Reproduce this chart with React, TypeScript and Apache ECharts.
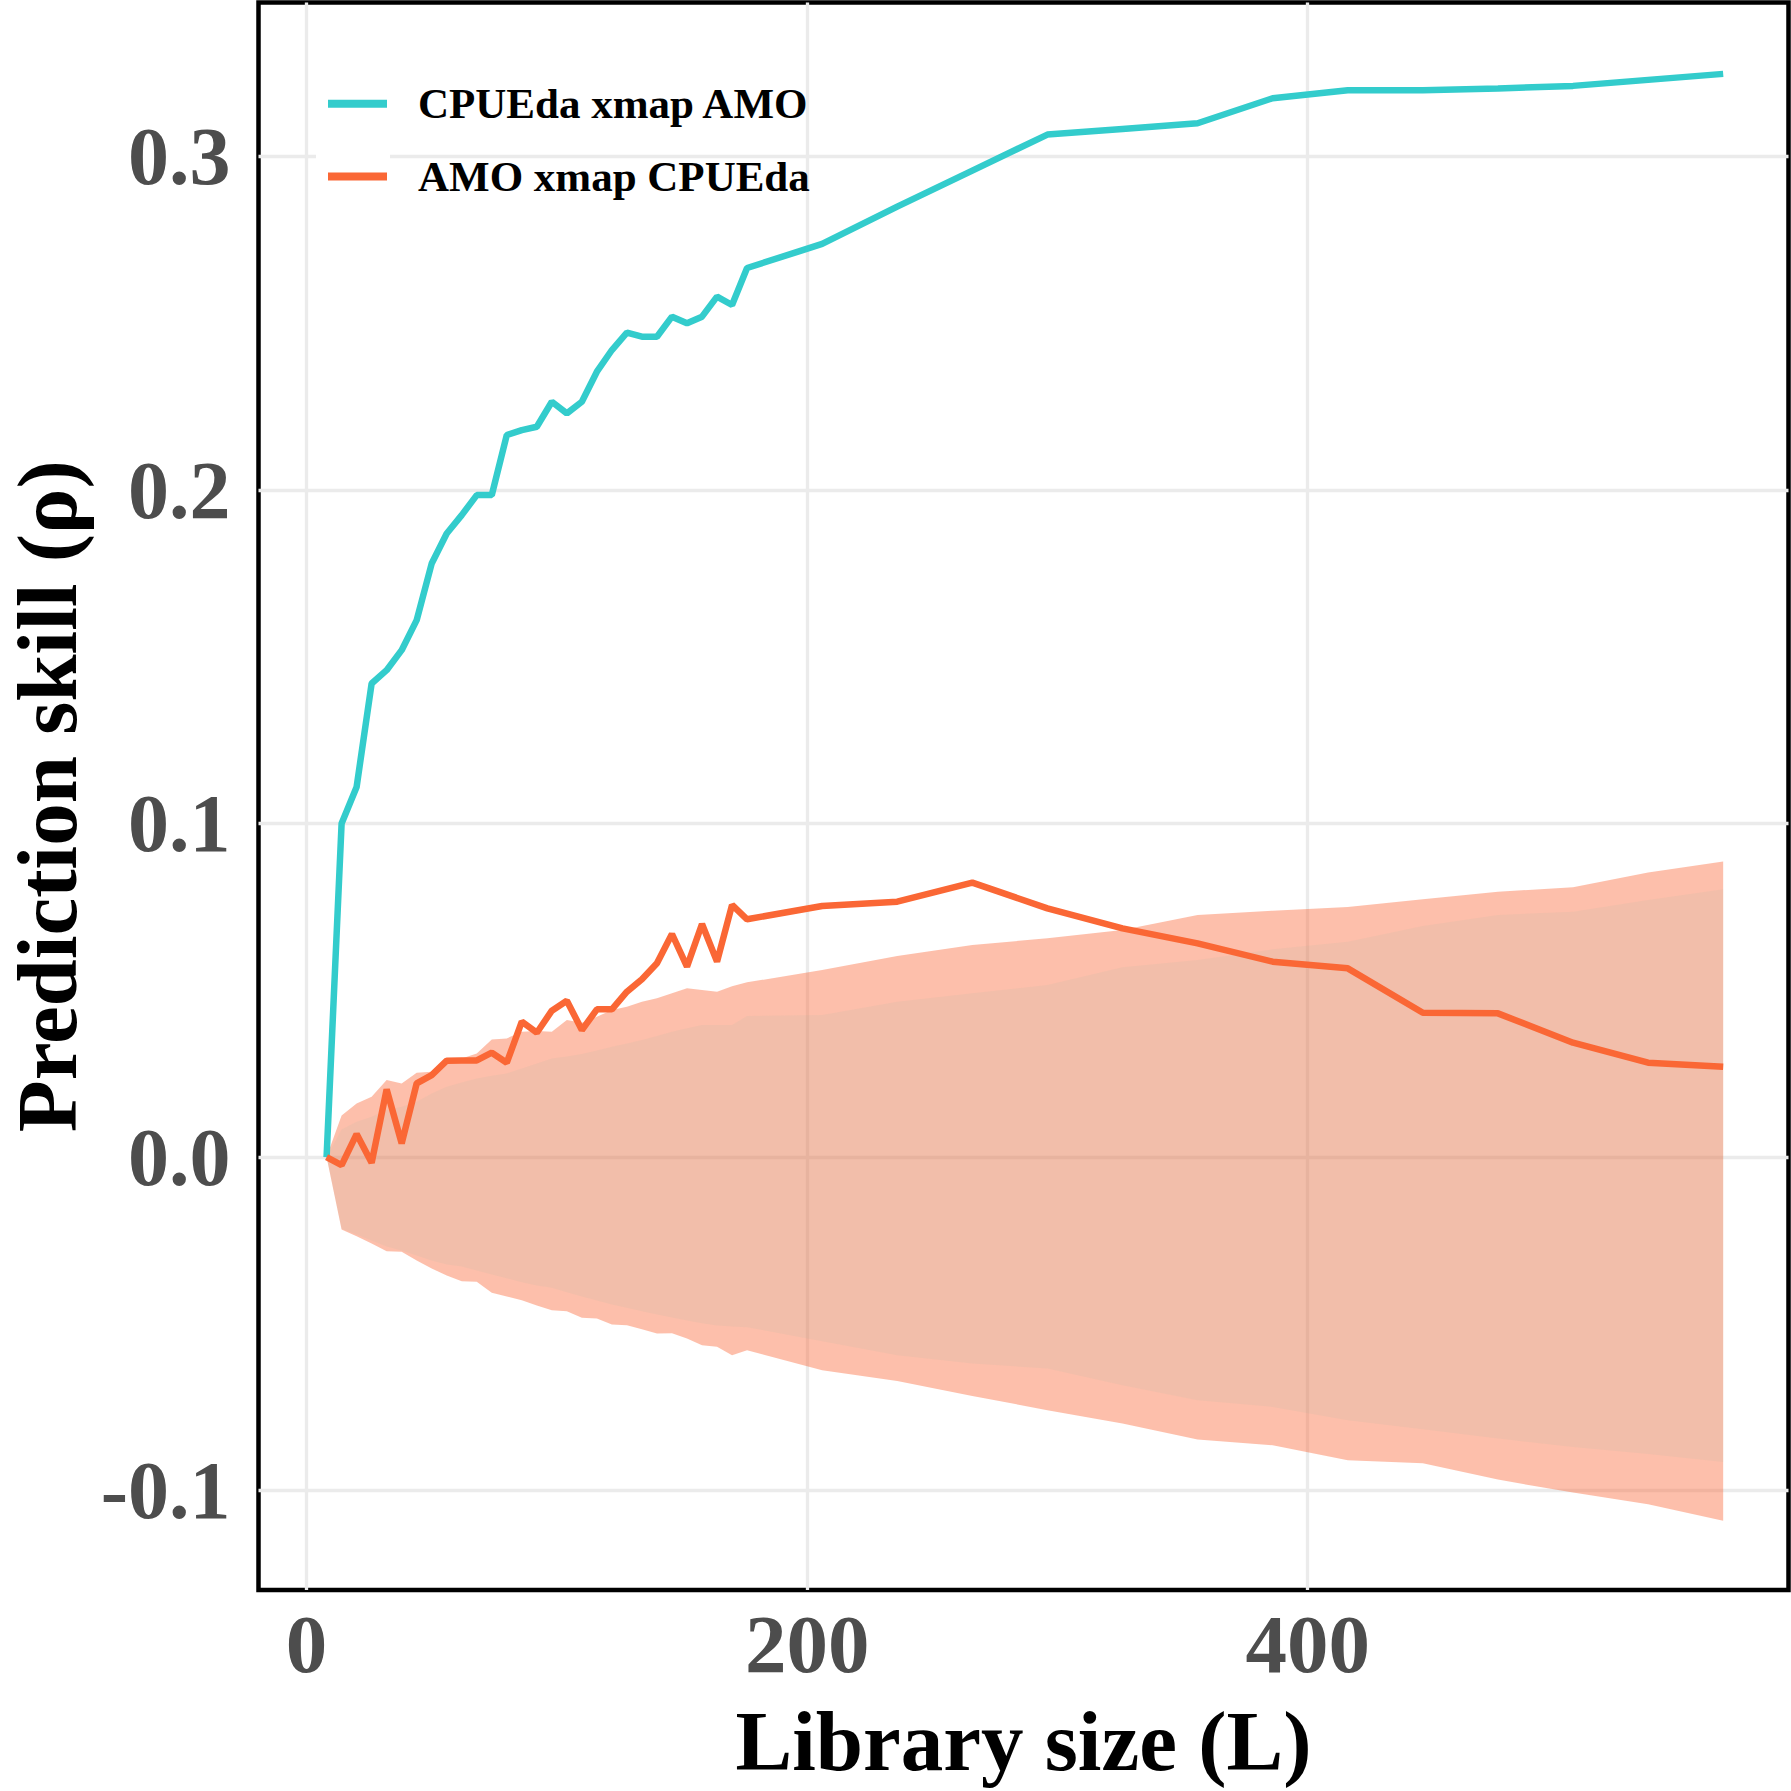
import React, { useEffect, useRef } from "react";
import * as echarts from "echarts";

// Library sizes (L)
const LIB_SIZE = [
  8, 14, 20, 26, 32, 38, 44, 50, 56, 62, 68, 74, 80, 86, 92, 98, 104, 110, 116, 122,
  128, 134, 140, 146, 152, 158, 164, 170, 176, 206, 236, 266, 296, 326, 356, 386,
  416, 446, 476, 506, 536, 566,
];

// CPUEda xmap AMO (rho)
const CPUE_XMAP_AMO = [
  0.0, 0.1, 0.111, 0.142, 0.146, 0.152, 0.161, 0.178, 0.187, 0.1925, 0.1985, 0.1985,
  0.2165, 0.218, 0.219, 0.2265, 0.223, 0.2265, 0.2355, 0.242, 0.2472, 0.246, 0.246,
  0.252, 0.25, 0.252, 0.258, 0.2555, 0.2666, 0.2738, 0.285, 0.2958, 0.3066, 0.3083,
  0.31, 0.3175, 0.3199, 0.3199, 0.3204, 0.3212, 0.323, 0.3248,
];

// AMO xmap CPUEda (rho)
const AMO_XMAP_CPUE = [
  0.0, -0.0024, 0.0069, -0.0017, 0.0203, 0.0041, 0.0221, 0.0246, 0.0289, 0.029, 0.029,
  0.0313, 0.0283, 0.0406, 0.0373, 0.0439, 0.0469, 0.0381, 0.0443, 0.0443, 0.0496,
  0.0533, 0.0581, 0.0669, 0.0571, 0.0699, 0.0586, 0.0756, 0.0713, 0.0753, 0.0766,
  0.0823, 0.0746, 0.0686, 0.0641, 0.0586, 0.0566, 0.0433, 0.0431, 0.0343, 0.0283, 0.0271,
];

// Null-model band (outer)
const OUTER_HI = [
  0.0, 0.0125, 0.0161, 0.0181, 0.0231, 0.0221, 0.0253, 0.0256, 0.0281, 0.0296, 0.0311,
  0.0353, 0.0356, 0.0376, 0.0378, 0.0376, 0.0411, 0.0403, 0.0421, 0.0441, 0.0451,
  0.0466, 0.0476, 0.0491, 0.0506, 0.0501, 0.0496, 0.0512, 0.0524, 0.0561, 0.0603,
  0.0636, 0.0656, 0.0681, 0.0726, 0.0739, 0.075, 0.0773, 0.0796, 0.0809, 0.0853, 0.0886,
];
const OUTER_LO = [
  0.0, -0.0217, -0.0237, -0.0259, -0.0282, -0.0284, -0.031, -0.0334, -0.0355, -0.0372,
  -0.0374, -0.0407, -0.0418, -0.0429, -0.0445, -0.0459, -0.0462, -0.0482, -0.0484,
  -0.0502, -0.0504, -0.0516, -0.0529, -0.0528, -0.0544, -0.0564, -0.0569, -0.0594,
  -0.0579, -0.0639, -0.0671, -0.0716, -0.0759, -0.0799, -0.0847, -0.0864, -0.0909,
  -0.0918, -0.0967, -0.1006, -0.1041, -0.109,
];

// Null-model band (inner)
const INNER_HI = [
  0.0, 0.0083, 0.0106, 0.0121, 0.0141, 0.0151, 0.0166, 0.0191, 0.0211, 0.0224, 0.0236,
  0.0244, 0.0251, 0.0266, 0.0281, 0.0296, 0.0302, 0.0309, 0.032, 0.0331, 0.0341,
  0.0351, 0.0363, 0.0376, 0.0386, 0.0396, 0.0396, 0.0396, 0.0423, 0.0426, 0.0466,
  0.0491, 0.0516, 0.0569, 0.0591, 0.0623, 0.0646, 0.0693, 0.0726, 0.0736, 0.0771, 0.0803,
];
const INNER_LO = [
  0.0, -0.0215, -0.0232, -0.025, -0.0268, -0.028, -0.0295, -0.031, -0.0322, -0.0328,
  -0.034, -0.0352, -0.0363, -0.0375, -0.0385, -0.0392, -0.0405, -0.0418, -0.043,
  -0.0442, -0.0452, -0.0462, -0.0472, -0.0481, -0.049, -0.0498, -0.0505, -0.0508,
  -0.051, -0.0552, -0.0594, -0.0619, -0.0634, -0.0684, -0.0729, -0.0749, -0.0789,
  -0.0816, -0.0844, -0.0869, -0.089, -0.0914,
];

const X_TICKS = [0, 200, 400];
const Y_TICKS = [-0.1, 0, 0.1, 0.2, 0.3];

const NAME_A = "CPUEda xmap AMO";
const NAME_B = "AMO xmap CPUEda";

const FONT = "'Liberation Serif', 'Times New Roman', serif";

function pairs(ys: number[]) {
  return LIB_SIZE.map((x, i) => [x, ys[i]]);
}

function bandSeries(name: string, lo: number[], hi: number[], fill: string) {
  return {
    type: "custom",
    name,
    silent: true,
    clip: true,
    z: 2,
    data: [[LIB_SIZE[0], lo[0]]],
    renderItem: (_params: any, api: any) => {
      const pts: number[][] = [];
      for (let i = 0; i < LIB_SIZE.length; i++) pts.push(api.coord([LIB_SIZE[i], hi[i]]));
      for (let i = LIB_SIZE.length - 1; i >= 0; i--) pts.push(api.coord([LIB_SIZE[i], lo[i]]));
      return {
        type: "polygon",
        shape: { points: pts },
        style: { fill, stroke: "none" },
        silent: true,
      };
    },
  };
}

export default function App() {
  const ref = useRef<HTMLDivElement>(null);

  useEffect(() => {
    if (!ref.current) return;
    const chart = echarts.init(ref.current, undefined, { renderer: "svg" });
    const option = {
      animation: false,
      backgroundColor: "#ffffff",
      grid: {
        left: 258.5,
        top: 2.5,
        width: 1530,
        height: 1587.5,
        show: true,
        borderColor: "#000000",
        borderWidth: 4.5,
        backgroundColor: "transparent",
        containLabel: false,
        outerBoundsMode: "none",
      },
      legend: {
        data: [NAME_A, NAME_B],
        orient: "vertical",
        left: 323,
        top: 76.7,
        icon: "rect",
        itemWidth: 59,
        itemHeight: 8,
        itemGap: 28.7,
        selectedMode: false,
        textStyle: {
          fontFamily: FONT,
          fontWeight: "bold",
          fontSize: 43,
          lineHeight: 44,
          color: "#000000",
          padding: [0, 0, 0, 26],
        },
      },
      graphic: [
        {
          type: "rect",
          z: 1,
          silent: true,
          shape: { x: 316, y: 67, width: 74, height: 146 },
          style: { fill: "#ffffff" },
        },
      ],
      xAxis: {
        type: "value",
        min: -19.2,
        max: 592.1,
        name: "Library size (L)",
        nameLocation: "middle",
        nameGap: 108,
        nameTextStyle: {
          fontFamily: FONT,
          fontWeight: "bold",
          fontSize: 85,
          color: "#000000",
        },
        axisLine: { show: false },
        axisTick: { show: false, customValues: X_TICKS },
        axisLabel: {
          customValues: X_TICKS,
          fontFamily: FONT,
          fontWeight: "bold",
          fontSize: 83,
          color: "#4D4D4D",
          margin: 12,
          formatter: (v: number) => String(Math.round(v)),
        },
        splitLine: { show: true, lineStyle: { color: "#EBEBEB", width: 3.3 } },
      },
      yAxis: {
        type: "value",
        min: -0.1298,
        max: 0.3462,
        name: "Prediction skill (ρ)",
        nameLocation: "middle",
        nameGap: 176,
        nameRotate: 90,
        nameTextStyle: {
          fontFamily: FONT,
          fontWeight: "bold",
          fontSize: 85,
          lineHeight: 72,
          color: "#000000",
        },
        axisLine: { show: false },
        axisTick: { show: false, customValues: Y_TICKS },
        axisLabel: {
          customValues: Y_TICKS,
          fontFamily: FONT,
          fontWeight: "bold",
          fontSize: 82,
          color: "#4D4D4D",
          margin: 28,
          formatter: (v: number) => v.toFixed(1),
        },
        splitLine: { show: true, lineStyle: { color: "#EBEBEB", width: 3.3 } },
      },
      series: [
        bandSeries("null_outer", OUTER_LO, OUTER_HI, "rgba(250,100,50,0.41)"),
        bandSeries("null_inner", INNER_LO, INNER_HI, "rgba(143,187,171,0.1)"),
        {
          type: "line",
          name: NAME_A,
          data: pairs(CPUE_XMAP_AMO),
          showSymbol: false,
          symbol: "none",
          color: "#33CCCC",
          itemStyle: { color: "#33CCCC" },
          lineStyle: { color: "#33CCCC", width: 6.5 },
          z: 3,
        },
        {
          type: "line",
          name: NAME_B,
          data: pairs(AMO_XMAP_CPUE),
          showSymbol: false,
          symbol: "none",
          color: "#FA6735",
          itemStyle: { color: "#FA6735" },
          lineStyle: { color: "#FA6735", width: 6.5 },
          z: 3,
        },
      ],
    };
    chart.setOption(option as any);
    return () => chart.dispose();
  }, []);

  return (
    <div
      ref={ref}
      style={{ position: "fixed", left: 0, top: 0, width: 1791, height: 1791, background: "#fff" }}
    />
  );
}
